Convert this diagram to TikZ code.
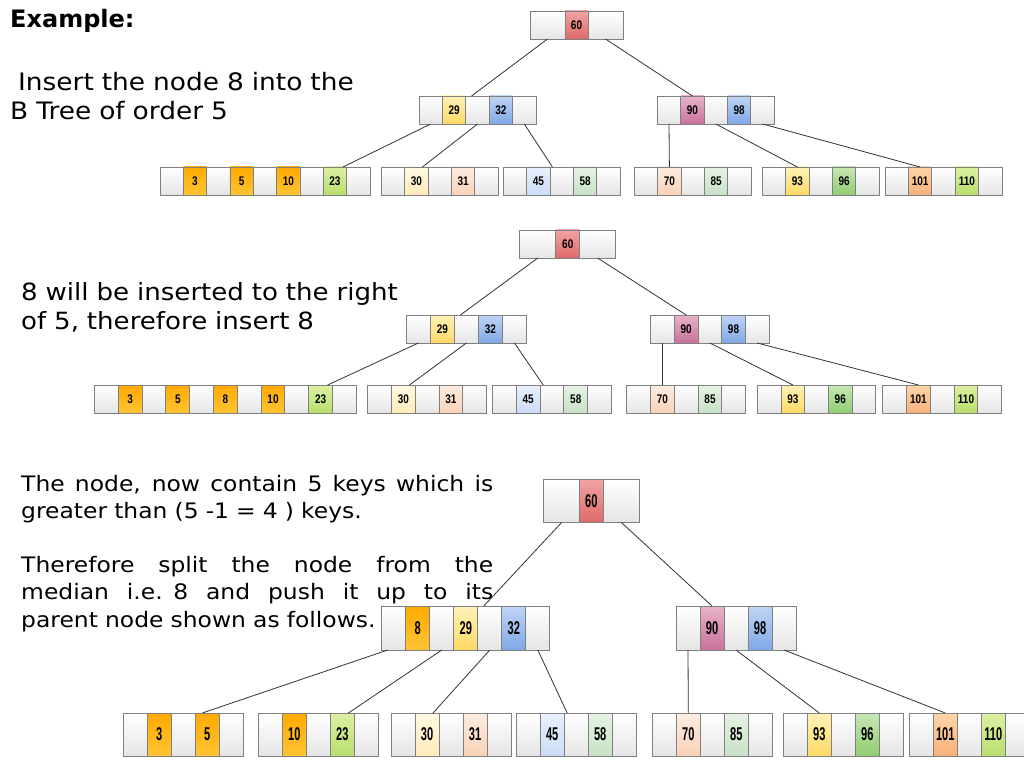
\documentclass[tikz,border=0pt]{standalone}
\usepackage{fontspec}
\usepackage{graphicx}
\setmainfont{DejaVu Sans}
\newfontfamily\vfont[FakeStretch=1.1]{DejaVu Sans}
\newfontfamily\kfont{Liberation Sans}
\newlength{\du}
\setlength{\du}{1pt}
\def\kscale{0.8}
\newcommand{\keyfont}[1]{\scalebox{\kscale}[1]{#1}}
\newcommand{\jline}[1]{\makebox[472\du][s]{\spaceskip=0.35em plus 1fil\relax #1}}
\newcommand{\btnode}[6]{%
  \foreach [count=\i] \s/\k in {#6}
    \node[cell,\s,minimum width=#4\du,minimum height=#5\du] (#1-\i)
      at ({(#2+(\i-0.5)*#4)*\du},{#3*\du}) {\keyfont{\k}};
}

\begin{document}
\begin{tikzpicture}
\pgftransformxscale{1.000000}
\pgftransformyscale{-1.000000}
\definecolor{cellgray}{HTML}{808080}
\definecolor{redT}{HTML}{F2A3A3}\definecolor{redB}{HTML}{DE6A6A}
\definecolor{yelT}{HTML}{FFF2B8}\definecolor{yelB}{HTML}{FFD966}
\definecolor{bluT}{HTML}{BFD4F5}\definecolor{bluB}{HTML}{7FA8E6}
\definecolor{pnkT}{HTML}{E8B2CA}\definecolor{pnkB}{HTML}{C8729B}
\definecolor{orgT}{HTML}{FFAA00}\definecolor{orgB}{HTML}{FFC433}
\definecolor{limT}{HTML}{DCF0A4}\definecolor{limB}{HTML}{B8DE6C}
\definecolor{crmT}{HTML}{FFF9E3}\definecolor{crmB}{HTML}{FFEBBA}
\definecolor{pchT}{HTML}{FDECE1}\definecolor{pchB}{HTML}{F9D2B6}
\definecolor{lblT}{HTML}{E8F0FC}\definecolor{lblB}{HTML}{CCDCF6}
\definecolor{lgrT}{HTML}{E6F2E5}\definecolor{lgrB}{HTML}{C8E1C6}
\definecolor{grnT}{HTML}{C8E7B5}\definecolor{grnB}{HTML}{90CD72}
\definecolor{aprT}{HTML}{FFD5A8}\definecolor{aprB}{HTML}{F6B07A}
\tikzset{
  cell/.style={draw=cellgray,line width=0.9\du,inner sep=0pt,outer sep=0pt},
  wc/.style={top color=white,bottom color=black!10},
  kred/.style={top color=redT,bottom color=redB},
  kyel/.style={top color=yelT,bottom color=yelB},
  kblu/.style={top color=bluT,bottom color=bluB},
  kpnk/.style={top color=pnkT,bottom color=pnkB},
  korg/.style={top color=orgT,bottom color=orgB},
  klim/.style={top color=limT,bottom color=limB},
  kcrm/.style={top color=crmT,bottom color=crmB},
  kpch/.style={top color=pchT,bottom color=pchB},
  klbl/.style={top color=lblT,bottom color=lblB},
  klgr/.style={top color=lgrT,bottom color=lgrB},
  kgrn/.style={top color=grnT,bottom color=grnB},
  kapr/.style={top color=aprT,bottom color=aprB},
  link/.style={draw=black!80,line width=0.8\du},
  txt/.style={anchor=base west,inner sep=0pt,align=left}
}
\path[use as bounding box,fill=white] (0\du,0\du) rectangle (1024\du,767\du);
% text
\node[txt,font=\bfseries\fontsize{24}{29}\selectfont] (title) at (10\du,28\du) {Example:};
\node[txt,text width=360\du,font=\vfont\fontsize{24}{29}\selectfont] (task) at (10\du,91\du)
  {\ Insert the node 8 into the\\B Tree of order 5};
\node[txt,text width=400\du,font=\vfont\fontsize{23.7}{29}\selectfont] (step) at (21\du,300\du)
  {8 will be inserted to the right\\of 5, therefore insert 8};
\node[txt,text width=472\du,font=\vfont\fontsize{21.3}{27.5}\selectfont] (split) at (21\du,491\du)
  {\jline{The node, now contain 5 keys which is}\\
   greater than (5 -1 = 4 ) keys.\\[26\du]
   \jline{Therefore split the node from the}\\
   \jline{median i.e. 8 and push it up to its}\\
   parent node shown as follows.};
% tree before insertion
\begin{scope}[cell/.append style={font=\kfont\bfseries\fontsize{12.5}{12.5}\selectfont}]
\node[cell,wc,minimum width=35\du,minimum height=28\du] (aroot-1) at (547.5\du,25\du) {};
\node[cell,kred,minimum width=23\du,minimum height=28\du] (aroot-2) at (576.5\du,25\du) {\keyfont{60}};
\node[cell,wc,minimum width=35\du,minimum height=28\du] (aroot-3) at (605.5\du,25\du) {};
\btnode{al}{419}{110}{23.4}{28}{wc/,kyel/29,wc/,kblu/32,wc/}
\btnode{ar}{657.3}{110}{23.4}{28}{wc/,kpnk/90,wc/,kblu/98,wc/}
\btnode{aa}{160}{181}{23.33}{28}{wc/,korg/3,wc/,korg/5,wc/,korg/10,wc/,klim/23,wc/}
\btnode{ab}{381.3}{181}{23.4}{28}{wc/,kcrm/30,wc/,kpch/31,wc/}
\btnode{ac}{503.3}{181}{23.4}{28}{wc/,klbl/45,wc/,klgr/58,wc/}
\btnode{ad}{634.3}{181}{23.4}{28}{wc/,kpch/70,wc/,klgr/85,wc/}
\btnode{ae}{762.3}{181}{23.4}{28}{wc/,kyel/93,wc/,kgrn/96,wc/}
\btnode{af}{885}{181}{23.4}{28}{wc/,kapr/101,wc/,klim/110,wc/}
\end{scope}
\draw[link] (aroot-1.south) -- ([xshift=-6\du]al-3.north);
\draw[link] (aroot-3.south) -- (ar-2.north);
\draw[link] (al-1.south) -- ([xshift=8\du]aa-8.north);
\draw[link] (al-3.south) -- ([xshift=6\du]ab-2.north);
\draw[link] (al-5.south) -- ([xshift=14\du]ac-2.north);
\draw[link] (ar-1.south) -- (ad-2.north);
\draw[link] (ar-3.south) -- (ae-2.north);
\draw[link] (ar-5.south) -- (af-2.north);
% 8 put in the leaf
\begin{scope}[cell/.append style={font=\kfont\bfseries\fontsize{12.5}{12.5}\selectfont}]
\node[cell,wc,minimum width=36.2\du,minimum height=28\du] (broot-1) at (537.8\du,244\du) {};
\node[cell,kred,minimum width=23.8\du,minimum height=28\du] (broot-2) at (567.8\du,244\du) {\keyfont{60}};
\node[cell,wc,minimum width=35.8\du,minimum height=28\du] (broot-3) at (597.6\du,244\du) {};
\btnode{bl}{406.4}{329}{24}{28}{wc/,kyel/29,wc/,kblu/32,wc/}
\btnode{br}{650.7}{329}{23.66}{28}{wc/,kpnk/90,wc/,kblu/98,wc/}
\btnode{ba}{94.5}{399}{23.8}{28}{wc/,korg/3,wc/,korg/5,wc/,korg/8,wc/,korg/10,wc/,klim/23,wc/}
\btnode{bb}{367.9}{399}{23.7}{28}{wc/,kcrm/30,wc/,kpch/31,wc/}
\btnode{bc}{492.5}{399}{23.8}{28}{wc/,klbl/45,wc/,klgr/58,wc/}
\btnode{bd}{626.7}{399}{23.8}{28}{wc/,kpch/70,wc/,klgr/85,wc/}
\btnode{be}{757.3}{399}{23.7}{28}{wc/,kyel/93,wc/,kgrn/96,wc/}
\btnode{bf}{882.7}{399}{23.8}{28}{wc/,kapr/101,wc/,klim/110,wc/}
\end{scope}
\draw[link] (broot-1.south) -- ([xshift=-6\du]bl-3.north);
\draw[link] (broot-3.south) -- (br-2.north);
\draw[link] (bl-1.south) -- ([xshift=7\du]ba-10.north);
\draw[link] (bl-3.south) -- ([xshift=6\du]bb-2.north);
\draw[link] (bl-5.south) -- ([xshift=15\du]bc-2.north);
\draw[link] (br-1.south) -- (bd-2.north);
\draw[link] (br-3.south) -- (be-2.north);
\draw[link] (br-5.south) -- (bf-2.north);
% after the split
\begin{scope}[cell/.append style={font=\kfont\bfseries\fontsize{18.5}{18.5}\selectfont}]
\def\kscale{0.6}
\node[cell,wc,minimum width=35.4\du,minimum height=43\du] (croot-1) at (561.6\du,501\du) {};
\node[cell,kred,minimum width=23.9\du,minimum height=43\du] (croot-2) at (591.25\du,501\du) {\keyfont{60}};
\node[cell,wc,minimum width=36.4\du,minimum height=43\du] (croot-3) at (621.4\du,501\du) {};
\btnode{cl}{381.8}{628}{24}{44}{wc/,korg/8,wc/,kyel/29,wc/,kblu/32,wc/}
\btnode{cr}{676}{628}{24}{44}{wc/,kpnk/90,wc/,kblu/98,wc/}
\btnode{ca}{123.3}{734.5}{24}{43}{wc/,korg/3,wc/,korg/5,wc/}
\btnode{cb}{258.4}{734.5}{24}{43}{wc/,korg/10,wc/,klim/23,wc/}
\btnode{cc}{391}{734.5}{24}{43}{wc/,kcrm/30,wc/,kpch/31,wc/}
\btnode{cd}{516.2}{734.5}{24}{43}{wc/,klbl/45,wc/,klgr/58,wc/}
\btnode{ce}{652.3}{734.5}{24}{43}{wc/,kpch/70,wc/,klgr/85,wc/}
\btnode{cf}{783.3}{734.5}{24}{43}{wc/,kyel/93,wc/,kgrn/96,wc/}
\btnode{cg}{909.3}{734.5}{24}{43}{wc/,kapr/101,wc/,klim/110,wc/}
\end{scope}
\draw[link] (croot-1.south) -- ([xshift=-6\du]cl-5.north);
\draw[link] (croot-3.south) -- (cr-2.north);
\draw[link] ([xshift=-6\du]cl-1.south) -- ([xshift=-5\du]ca-4.north);
\draw[link] (cl-3.south) -- ([xshift=6\du]cb-4.north);
\draw[link] (cl-5.south) -- ([xshift=6\du]cc-2.north);
\draw[link] (cl-7.south) -- ([xshift=15\du]cd-2.north);
\draw[link] (cr-1.south) -- (ce-2.north);
\draw[link] (cr-3.south) -- (cf-2.north);
\draw[link] (cr-5.south) -- (cg-2.north);
\end{tikzpicture}
\end{document}
